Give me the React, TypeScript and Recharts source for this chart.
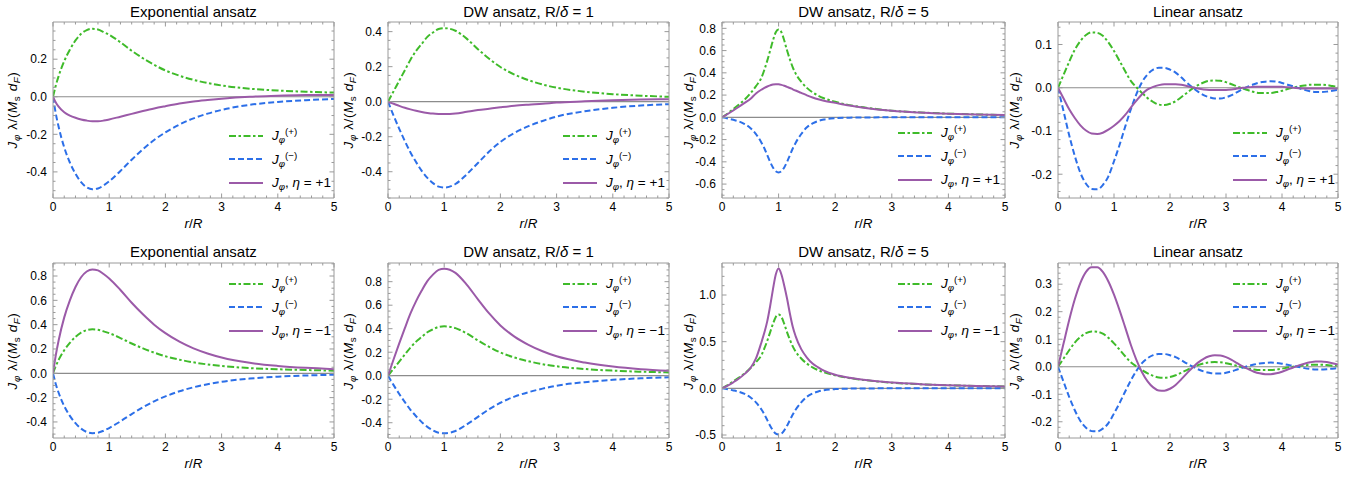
import React from "react";
import { LineChart, Line, XAxis, YAxis, ReferenceLine } from "recharts";

const GREEN = "#3fbb2a";
const BLUE = "#2c6fe8";
const PURPLE = "#9b5aa8";
const FRAME = "#9a9a9a";
const ZERO = "#8c8c8c";
const FONT = "'Liberation Sans', Arial, sans-serif";

// r/R sample points (exponential and R/delta = 1 domain wall)
const rSmooth = [0, 0.05, 0.1, 0.2, 0.3, 0.4, 0.5, 0.6, 0.7, 0.8, 0.9, 1.0, 1.2, 1.4, 1.6, 1.8, 2.0, 2.25, 2.5, 2.75, 3.0, 3.5, 4.0, 4.5, 5.0];
// r/R sample points (R/delta = 5, sharp peak at 1)
const rPeak = [0, 0.1, 0.2, 0.3, 0.4, 0.5, 0.6, 0.7, 0.75, 0.8, 0.85, 0.9, 0.95, 1.0, 1.05, 1.1, 1.15, 1.2, 1.25, 1.3, 1.4, 1.5, 1.6, 1.7, 1.8, 2.0, 2.25, 2.5, 3.0, 3.5, 4.0, 4.5, 5.0];
// r/R sample points (linear ansatz, oscillating)
const rWave = [0, 0.1, 0.2, 0.3, 0.4, 0.5, 0.6, 0.7, 0.8, 0.9, 1.0, 1.1, 1.2, 1.3, 1.4, 1.5, 1.6, 1.7, 1.8, 1.9, 2.0, 2.1, 2.2, 2.3, 2.4, 2.5, 2.6, 2.7, 2.8, 2.9, 3.0, 3.1, 3.2, 3.3, 3.4, 3.5, 3.6, 3.7, 3.8, 3.9, 4.0, 4.1, 4.2, 4.3, 4.4, 4.5, 4.6, 4.7, 4.8, 4.9, 5.0];

// Exponential ansatz
const expPlus = [0, 0.06, 0.11, 0.19, 0.25, 0.3, 0.335, 0.355, 0.362, 0.358, 0.345, 0.33, 0.29, 0.245, 0.205, 0.17, 0.14, 0.112, 0.09, 0.073, 0.06, 0.043, 0.033, 0.027, 0.022];
const expMinus = [0, -0.09, -0.16, -0.27, -0.35, -0.41, -0.455, -0.482, -0.492, -0.488, -0.472, -0.45, -0.395, -0.335, -0.28, -0.23, -0.19, -0.148, -0.115, -0.09, -0.07, -0.043, -0.028, -0.018, -0.012];
const expUp = [0, -0.03, -0.052, -0.082, -0.1, -0.112, -0.121, -0.127, -0.13, -0.13, -0.127, -0.121, -0.106, -0.091, -0.076, -0.062, -0.05, -0.036, -0.025, -0.017, -0.01, 0, 0.005, 0.009, 0.01];
const expDown = [0, 0.15, 0.27, 0.46, 0.6, 0.71, 0.79, 0.837, 0.854, 0.846, 0.817, 0.78, 0.685, 0.58, 0.485, 0.4, 0.33, 0.26, 0.205, 0.163, 0.13, 0.086, 0.061, 0.045, 0.034];

// DW ansatz, R/delta = 1
const dw1Plus = [0, 0.03, 0.06, 0.12, 0.18, 0.24, 0.29, 0.33, 0.37, 0.395, 0.415, 0.42, 0.405, 0.36, 0.3, 0.245, 0.198, 0.155, 0.123, 0.098, 0.08, 0.057, 0.043, 0.034, 0.028];
const dw1Minus = [0, -0.04, -0.08, -0.155, -0.225, -0.29, -0.345, -0.395, -0.435, -0.465, -0.485, -0.49, -0.47, -0.415, -0.35, -0.285, -0.23, -0.178, -0.14, -0.11, -0.085, -0.055, -0.035, -0.022, -0.014];
const dw1Up = [0, -0.006, -0.012, -0.024, -0.035, -0.044, -0.052, -0.059, -0.064, -0.068, -0.07, -0.071, -0.068, -0.058, -0.048, -0.04, -0.032, -0.023, -0.017, -0.012, -0.005, 0.002, 0.008, 0.012, 0.014];
const dw1Down = [0, 0.07, 0.14, 0.275, 0.405, 0.53, 0.635, 0.725, 0.805, 0.86, 0.9, 0.91, 0.875, 0.775, 0.65, 0.53, 0.428, 0.333, 0.263, 0.208, 0.165, 0.112, 0.078, 0.056, 0.042];

// DW ansatz, R/delta = 5
const dw5Plus = [0, 0.035, 0.075, 0.115, 0.16, 0.215, 0.28, 0.36, 0.43, 0.51, 0.6, 0.69, 0.765, 0.79, 0.765, 0.69, 0.6, 0.52, 0.45, 0.395, 0.32, 0.265, 0.225, 0.195, 0.172, 0.14, 0.11, 0.09, 0.06, 0.044, 0.033, 0.026, 0.02];
const dw5Minus = [0, -0.01, -0.022, -0.037, -0.06, -0.095, -0.15, -0.23, -0.28, -0.34, -0.4, -0.45, -0.485, -0.495, -0.485, -0.45, -0.4, -0.34, -0.28, -0.23, -0.15, -0.09, -0.055, -0.033, -0.02, -0.008, -0.003, -0.001, 0, 0, 0, 0, 0];
const dw5Up = [0, 0.03, 0.062, 0.095, 0.13, 0.165, 0.215, 0.25, 0.265, 0.277, 0.287, 0.295, 0.298, 0.297, 0.292, 0.284, 0.274, 0.264, 0.252, 0.241, 0.22, 0.198, 0.178, 0.162, 0.15, 0.13, 0.106, 0.087, 0.059, 0.043, 0.032, 0.025, 0.02];
const dw5Down = [0, 0.03, 0.065, 0.105, 0.155, 0.215, 0.32, 0.5, 0.6, 0.72, 0.88, 1.06, 1.22, 1.285, 1.22, 1.1, 0.96, 0.8, 0.66, 0.56, 0.42, 0.33, 0.265, 0.225, 0.19, 0.145, 0.113, 0.092, 0.062, 0.045, 0.034, 0.026, 0.02];

// Linear ansatz
const linPlus = [0, 0.03, 0.06, 0.088, 0.108, 0.122, 0.128, 0.127, 0.12, 0.105, 0.085, 0.062, 0.038, 0.016, 0.001, -0.012, -0.024, -0.033, -0.039, -0.04, -0.037, -0.031, -0.022, -0.012, -0.002, 0.006, 0.012, 0.016, 0.017, 0.016, 0.013, 0.008, 0.003, -0.002, -0.006, -0.01, -0.012, -0.012, -0.012, -0.01, -0.007, -0.003, 0, 0.003, 0.005, 0.007, 0.007, 0.007, 0.006, 0.004, 0.002];
const linMinus = [0, -0.055, -0.11, -0.158, -0.197, -0.222, -0.234, -0.235, -0.225, -0.205, -0.17, -0.132, -0.09, -0.05, -0.015, 0.013, 0.031, 0.042, 0.046, 0.046, 0.042, 0.035, 0.024, 0.012, 0.001, -0.009, -0.017, -0.022, -0.025, -0.025, -0.022, -0.017, -0.01, -0.003, 0.003, 0.008, 0.012, 0.014, 0.015, 0.014, 0.011, 0.007, 0.003, -0.001, -0.005, -0.008, -0.01, -0.01, -0.009, -0.007, -0.005];
const linUp = [0, -0.025, -0.05, -0.07, -0.087, -0.099, -0.106, -0.107, -0.104, -0.097, -0.088, -0.077, -0.063, -0.046, -0.03, -0.015, -0.004, 0.002, 0.006, 0.008, 0.008, 0.008, 0.007, 0.004, 0.001, -0.002, -0.004, -0.005, -0.005, -0.005, -0.005, -0.004, -0.002, 0, 0.001, 0.002, 0.002, 0.002, 0.002, 0.002, 0.002, 0.001, 0, -0.001, -0.002, -0.002, -0.002, -0.002, -0.002, -0.002, -0.002];
const linDown = [0, 0.085, 0.17, 0.245, 0.305, 0.345, 0.362, 0.362, 0.345, 0.31, 0.262, 0.205, 0.143, 0.08, 0.025, -0.02, -0.053, -0.075, -0.086, -0.087, -0.08, -0.066, -0.046, -0.024, -0.004, 0.015, 0.029, 0.038, 0.042, 0.041, 0.035, 0.025, 0.013, 0.001, -0.009, -0.018, -0.024, -0.027, -0.027, -0.024, -0.018, -0.01, -0.003, 0.005, 0.011, 0.016, 0.019, 0.019, 0.017, 0.013, 0.008];

const xMajor = [0, 1, 2, 3, 4, 5];

type PanelCfg = {
  left: number;
  top: number;
  w: number;
  h: number;
  plot: [number, number, number, number];
  r: number[];
  plus: number[];
  minus: number[];
  total: number[];
  eta: string;
  title: React.ReactNode;
  yDomain: [number, number];
  yMajor: number[];
  yMinor: number;
  legendX: number;
  legendY: number;
  yLabelX: number;
};

const dwTitle = (n: string) => (
  <>
    DW ansatz, R/<i>δ</i> = {n}
  </>
);

const panels: PanelCfg[] = [
  { left: 0, top: 0, w: 340, h: 240, plot: [53, 334, 22, 198], r: rSmooth, plus: expPlus, minus: expMinus, total: expUp, eta: "+1", title: "Exponential ansatz", yDomain: [-0.539, 0.398], yMajor: [-0.4, -0.2, 0, 0.2], yMinor: 0.05, legendX: 229, legendY: 124, yLabelX: 12 },
  { left: 340, top: 0, w: 340, h: 240, plot: [48, 329, 22, 198], r: rSmooth, plus: dw1Plus, minus: dw1Minus, total: dw1Up, eta: "+1", title: dwTitle("1"), yDomain: [-0.55, 0.455], yMajor: [-0.4, -0.2, 0, 0.2, 0.4], yMinor: 0.05, legendX: 223, legendY: 124, yLabelX: 8 },
  { left: 680, top: 0, w: 340, h: 240, plot: [42, 325, 22, 198], r: rPeak, plus: dw5Plus, minus: dw5Minus, total: dw5Up, eta: "+1", title: dwTitle("5"), yDomain: [-0.725, 0.857], yMajor: [-0.6, -0.4, -0.2, 0, 0.2, 0.4, 0.6, 0.8], yMinor: 0.05, legendX: 218, legendY: 121, yLabelX: 8 },
  { left: 1020, top: 0, w: 344, h: 240, plot: [38, 318, 22, 198], r: rWave, plus: linPlus, minus: linMinus, total: linUp, eta: "+1", title: "Linear ansatz", yDomain: [-0.255, 0.152], yMajor: [-0.2, -0.1, 0, 0.1], yMinor: 0.02, legendX: 213, legendY: 121, yLabelX: -6 },
  { left: 0, top: 240, w: 340, h: 239, plot: [53, 334, 23, 198], r: rSmooth, plus: expPlus, minus: expMinus, total: expDown, eta: "\u22121", title: "Exponential ansatz", yDomain: [-0.532, 0.907], yMajor: [-0.4, -0.2, 0, 0.2, 0.4, 0.6, 0.8], yMinor: 0.05, legendX: 229, legendY: 32, yLabelX: 12 },
  { left: 340, top: 240, w: 340, h: 239, plot: [48, 329, 23, 198], r: rSmooth, plus: dw1Plus, minus: dw1Minus, total: dw1Down, eta: "\u22121", title: dwTitle("1"), yDomain: [-0.53, 0.959], yMajor: [-0.4, -0.2, 0, 0.2, 0.4, 0.6, 0.8], yMinor: 0.05, legendX: 223, legendY: 32, yLabelX: 8 },
  { left: 680, top: 240, w: 340, h: 239, plot: [42, 325, 23, 198], r: rPeak, plus: dw5Plus, minus: dw5Minus, total: dw5Down, eta: "\u22121", title: dwTitle("5"), yDomain: [-0.532, 1.343], yMajor: [-0.5, 0, 0.5, 1.0], yMinor: 0.1, legendX: 218, legendY: 32, yLabelX: 8 },
  { left: 1020, top: 240, w: 344, h: 239, plot: [38, 318, 23, 198], r: rWave, plus: linPlus, minus: linMinus, total: linDown, eta: "\u22121", title: "Linear ansatz", yDomain: [-0.259, 0.377], yMajor: [-0.2, -0.1, 0, 0.1, 0.2, 0.3], yMinor: 0.02, legendX: 213, legendY: 32, yLabelX: -6 },
];

const near = (a: number, b: number) => Math.abs(a - b) < 1e-6;

function minorTicks(lo: number, hi: number, step: number) {
  const out: number[] = [];
  for (let k = Math.ceil(lo / step - 1e-9); k * step <= hi + 1e-9; k++) {
    out.push(Math.round(k * step * 1000) / 1000);
  }
  return out;
}

const fmt = (v: number) => (v < 0 ? "-" : "") + Math.abs(v).toFixed(1);

const sub = { fontSize: "0.72em", verticalAlign: "-0.32em", lineHeight: 0 } as React.CSSProperties;
const sup = { fontSize: "0.72em", verticalAlign: "0.55em", lineHeight: 0 } as React.CSSProperties;

const Jphi = () => (
  <>
    <i>J</i>
    <i style={sub}>φ</i>
  </>
);

function LegendRow({ color, dash, children }: { color: string; dash?: string; children: React.ReactNode }) {
  return (
    <div style={{ display: "flex", alignItems: "center", height: 23.5 }}>
      <svg width={34} height={6} style={{ display: "block" }}>
        <line x1={0} x2={34} y1={3} y2={3} stroke={color} strokeWidth={2} strokeDasharray={dash} />
      </svg>
      <span style={{ marginLeft: 9, fontSize: 13.5, whiteSpace: "nowrap" }}>{children}</span>
    </div>
  );
}

function Panel({ cfg }: { cfg: PanelCfg }) {
  const [px0, px1, py0, py1] = cfg.plot;
  const data = cfg.r.map((r, i) => ({ r, p: cfg.plus[i], m: cfg.minus[i], s: cfg.total[i] }));
  const xTicks = minorTicks(0, 5, 0.2);
  const yTicks = minorTicks(cfg.yDomain[0], cfg.yDomain[1], cfg.yMinor);
  const isXMajor = (v: number) => xMajor.some((m) => near(m, v));
  const isYMajor = (v: number) => cfg.yMajor.some((m) => near(m, v));

  const bottomTick = (p: any) => {
    const major = isXMajor(p.payload.value);
    return (
      <g>
        <line x1={p.x} x2={p.x} y1={p.y} y2={p.y - (major ? 4.5 : 2.5)} stroke={FRAME} />
        {major && (
          <text x={p.x} y={p.y + 13} textAnchor="middle" fontSize={12} fontFamily={FONT} fill="#000">
            {p.payload.value}
          </text>
        )}
      </g>
    );
  };
  const topTick = (p: any) => {
    const major = isXMajor(p.payload.value);
    return <line x1={p.x} x2={p.x} y1={p.y} y2={p.y + (major ? 4.5 : 2.5)} stroke={FRAME} />;
  };
  const leftTick = (p: any) => {
    const major = isYMajor(p.payload.value);
    return (
      <g>
        <line x1={p.x} x2={p.x + (major ? 4.5 : 2.5)} y1={p.y} y2={p.y} stroke={FRAME} />
        {major && (
          <text x={p.x - 6} y={p.y + 4.3} textAnchor="end" fontSize={12} fontFamily={FONT} fill="#000">
            {fmt(p.payload.value)}
          </text>
        )}
      </g>
    );
  };
  const rightTick = (p: any) => {
    const major = isYMajor(p.payload.value);
    return <line x1={p.x} x2={p.x - (major ? 4.5 : 2.5)} y1={p.y} y2={p.y} stroke={FRAME} />;
  };

  const cx = (px0 + px1) / 2;
  const cy = (py0 + py1) / 2;
  const axisCommon = { tickSize: 0, tickMargin: 0, tickLine: false, interval: 0 as const, allowDataOverflow: true, axisLine: { stroke: FRAME } };

  return (
    <div style={{ position: "absolute", left: cfg.left, top: cfg.top, width: cfg.w, height: cfg.h, fontFamily: FONT, color: "#000" }}>
      <LineChart
        width={cfg.w}
        height={cfg.h}
        data={data}
        margin={{ left: px0 - 1, right: cfg.w - px1 - 1, top: py0 - 1, bottom: cfg.h - py1 - 1 }}
      >
        <XAxis xAxisId="b" dataKey="r" type="number" domain={[0, 5]} ticks={xTicks} height={1} tick={bottomTick} {...axisCommon} />
        <XAxis xAxisId="t" orientation="top" dataKey="r" type="number" domain={[0, 5]} ticks={xTicks} height={1} tick={topTick} {...axisCommon} />
        <YAxis yAxisId="l" type="number" domain={cfg.yDomain} ticks={yTicks} width={1} tick={leftTick} {...axisCommon} />
        <YAxis yAxisId="r" orientation="right" type="number" domain={cfg.yDomain} ticks={yTicks} width={1} tick={rightTick} {...axisCommon} />
        <ReferenceLine xAxisId="b" yAxisId="l" y={0} stroke={ZERO} strokeWidth={1.2} />
        <Line xAxisId="t" yAxisId="r" dataKey="s" stroke="none" dot={false} isAnimationActive={false} />
        <Line xAxisId="b" yAxisId="l" type="monotone" dataKey="p" stroke={GREEN} strokeWidth={2} strokeDasharray="7 2.5 2.5 2.5" dot={false} isAnimationActive={false} />
        <Line xAxisId="b" yAxisId="l" type="monotone" dataKey="m" stroke={BLUE} strokeWidth={2} strokeDasharray="6 3" dot={false} isAnimationActive={false} />
        <Line xAxisId="b" yAxisId="l" type="monotone" dataKey="s" stroke={PURPLE} strokeWidth={2} dot={false} isAnimationActive={false} />
      </LineChart>

      <div style={{ position: "absolute", left: cx, top: 11, transform: "translate(-50%, -50%)", fontSize: 15, whiteSpace: "nowrap" }}>
        {cfg.title}
      </div>
      <div style={{ position: "absolute", left: cx, top: py1 + 25, transform: "translate(-50%, -50%)", fontSize: 13.5, whiteSpace: "nowrap" }}>
        <i>r</i>/<i>R</i>
      </div>
      <div style={{ position: "absolute", left: cfg.yLabelX, top: cy, transform: "translate(-50%, -50%) rotate(-90deg)", fontSize: 13.5, letterSpacing: 0.6, whiteSpace: "nowrap" }}>
        <Jphi /> λ/(<i>M</i>
        <span style={sub}>s</span> <i>d</i>
        <i style={sub}>F</i>)
      </div>
      <div style={{ position: "absolute", left: cfg.legendX, top: cfg.legendY }}>
        <LegendRow color={GREEN} dash="7 2.5 2.5 2.5">
          <Jphi />
          <span style={sup}>(+)</span>
        </LegendRow>
        <LegendRow color={BLUE} dash="6 3">
          <Jphi />
          <span style={sup}>(−)</span>
        </LegendRow>
        <LegendRow color={PURPLE}>
          <Jphi />, <i>η</i> = {cfg.eta}
        </LegendRow>
      </div>
    </div>
  );
}

export default function App() {
  return (
    <div style={{ position: "absolute", left: 0, top: 0, width: 1364, height: 479, background: "#fff", overflow: "hidden" }}>
      {panels.map((cfg, i) => (
        <Panel key={i} cfg={cfg} />
      ))}
    </div>
  );
}
